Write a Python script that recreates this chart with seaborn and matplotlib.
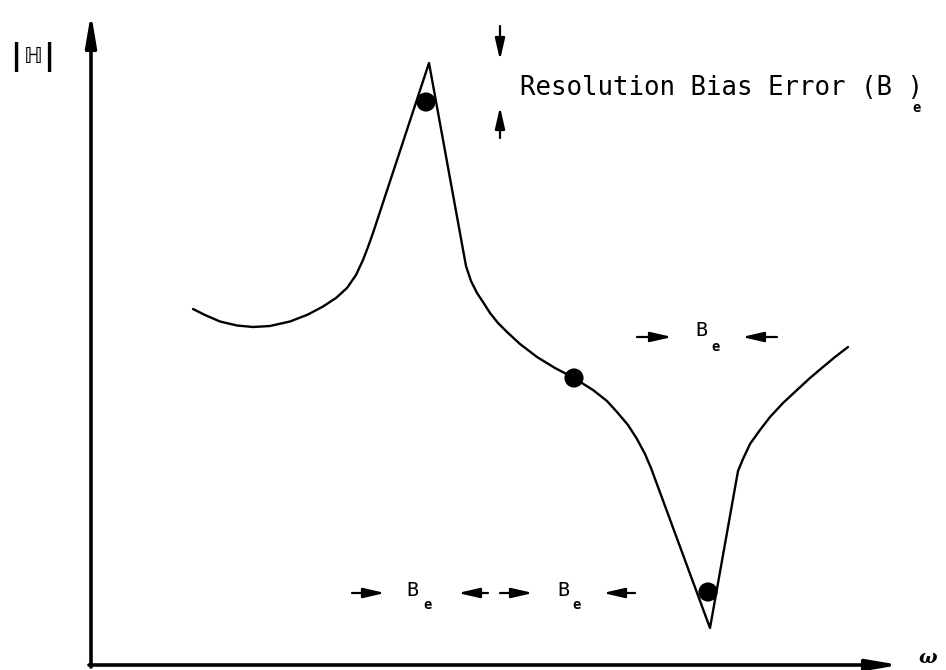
import matplotlib
matplotlib.use("Agg")
import matplotlib.pyplot as plt
from matplotlib.patches import ArrowStyle
import pandas as pd
import seaborn as sns

# Frequency response magnitude |H| versus frequency (schematic units, origin at axis corner)
omega = [102, 114, 129, 146, 162, 179, 199, 217, 232, 245, 256, 265, 272, 277, 282,
         338,
         375, 380, 386, 392, 399, 407, 416, 429, 446, 464, 483, 502, 516, 526, 537,
         546, 554, 560,
         619,
         647, 652, 659, 669, 679, 692, 706, 719, 732, 744, 757]
magnitude = [356, 350, 343.5, 339.5, 338, 339, 343.5, 350.5, 358.5, 367, 377, 390, 405, 418, 432,
             602,
             399, 384, 372, 363, 352, 342, 333, 321, 308, 297, 287, 275, 264, 253, 240,
             226, 211, 197,
             37,
             194, 206, 221, 235, 248, 262, 275, 287, 298, 308, 318]

# Spectral estimates smoothed over the resolution bandwidth B_e
est_omega = [335, 483, 617]
est_magnitude = [563, 287, 73]

y_label = "ℍ"
x_label = "ω"
bias_label = "Resolution Bias Error (B )"
band_label = "B"
sub_label = "e"

curve = pd.DataFrame({"omega": omega, "H": magnitude})
points = pd.DataFrame({"omega": est_omega, "H": est_magnitude})

sns.set_theme(style="white")
plt.rcParams["font.family"] = ["DejaVu Sans Mono", "DejaVu Sans"]
plt.rcParams["text.color"] = "black"

fig = plt.figure(figsize=(9.46, 6.70), dpi=100)
ax = fig.add_axes([0, 0, 1, 1])
ax.set_xlim(-91, 855)
ax.set_ylim(-5, 665)
ax.axis("off")

sns.lineplot(data=curve, x="omega", y="H", estimator=None, sort=False,
             color="black", lw=1.7, ax=ax)
sns.scatterplot(data=points, x="omega", y="H", s=190, color="black",
                edgecolor="none", zorder=5, ax=ax)

# Coordinate axes with arrowheads
axis_head = ArrowStyle("-|>", head_length=1.9, head_width=0.32)
ax.annotate("", xy=(0, 652), xytext=(0, -2),
            arrowprops=dict(arrowstyle=axis_head, mutation_scale=10,
                            lw=2.6, color="black", shrinkA=0, shrinkB=0))
ax.annotate("", xy=(809, 0), xytext=(-2, 0),
            arrowprops=dict(arrowstyle=axis_head, mutation_scale=10,
                            lw=2.6, color="black", shrinkA=0, shrinkB=0))

# Axis labels: |H| built from two heavy bars around the outlined H
for bar_x in (-75, -42):
    ax.text(bar_x, 608, "|", fontsize=22, fontweight="bold", ha="center", va="center",
            family="DejaVu Sans")
ax.text(-58, 608, y_label, fontsize=16, ha="center", va="center",
        family=["DejaVu Sans", "Noto Sans"])
ax.text(837, 7, x_label, fontsize=14, style="italic", fontweight="bold",
        ha="center", va="center", family="DejaVu Serif")

# Small dimension arrows
small_head = ArrowStyle("-|>", head_length=1.3, head_width=0.3)


def dim_arrow(x0, y0, x1, y1):
    ax.annotate("", xy=(x1, y1), xytext=(x0, y0),
                arrowprops=dict(arrowstyle=small_head, mutation_scale=10,
                                lw=1.6, color="black", shrinkA=0, shrinkB=0))


# Bias error marker between true peak and estimate
dim_arrow(409, 639, 409, 605)
dim_arrow(409, 527, 409, 558)
ax.text(429, 570, bias_label, fontsize=18.5, ha="left", va="baseline")
ax.text(826, 557, sub_label, fontsize=10, fontweight="bold", ha="center", va="center")

# Bandwidth markers
dim_arrow(261, 72, 294, 72)
dim_arrow(397, 72, 367, 72)
dim_arrow(409, 72, 442, 72)
dim_arrow(544, 72, 512, 72)
dim_arrow(546, 328, 581, 328)
dim_arrow(686, 328, 651, 328)

for bx, by, ex, ey in [(321, 75, 337, 60), (472, 75, 486, 60), (610, 335, 625, 318)]:
    ax.text(bx, by, band_label, fontsize=14.5, ha="center", va="center")
    ax.text(ex, ey, sub_label, fontsize=10, fontweight="bold", ha="center", va="center")

fig.savefig("out.png", dpi=100)
